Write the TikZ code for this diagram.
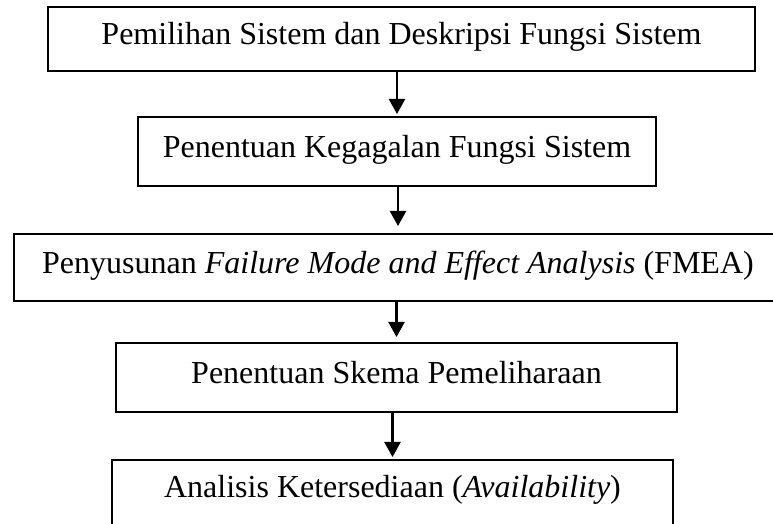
\documentclass[tikz,border=0pt]{standalone}
\usepackage{fontspec}
\setmainfont{Liberation Serif}
\usetikzlibrary{arrows.meta}
\tikzset{
  stepbox/.style={draw=black, line width=1pt, fill=white, inner sep=0pt,
    text height=0.8em, text depth=0.2em, minimum height=34.5pt,
    font=\fontsize{16}{19}\selectfont},
  flow/.style={-{Triangle[width=8pt,length=7.5pt]}, line width=1.2pt, shorten >=1pt}
}
\begin{document}
\begin{tikzpicture}[x=0.5pt,y=-0.5pt]
  \useasboundingbox (0,0) rectangle (773,524);

  % the five steps
  \node[stepbox, minimum width=353.5pt, minimum height=32pt] (pilih) at (401.5,39)
    {Pemilihan Sistem dan Deskripsi Fungsi Sistem};
  \node[stepbox, minimum width=259pt] (gagal) at (397,151.5)
    {Penentuan Kegagalan Fungsi Sistem};
  \node[stepbox, minimum width=384pt, minimum height=33.5pt] (fmea) at (398,267.5)
    {Penyusunan \textit{Failure Mode and Effect Analysis} (FMEA)};
  \node[stepbox, minimum width=280.5pt] (skema) at (396.5,377.5)
    {Penentuan Skema Pemeliharaan};
  \node[stepbox, minimum width=280.5pt, text depth=0.5em] (avail) at (392.5,494.5)
    {Analisis Ketersediaan (\textit{Availability})};

  % arrows
  \draw[flow] (pilih.south -| gagal.north) -- (gagal.north);
  \draw[flow, shorten >=3.5pt] (gagal.south -| fmea.north) -- (fmea.north);
  \draw[flow, shorten >=2.5pt] (fmea.south -| skema.north) -- (skema.north);
  \draw[flow] (skema.south -| avail.north) -- (avail.north);
\end{tikzpicture}
\end{document}
